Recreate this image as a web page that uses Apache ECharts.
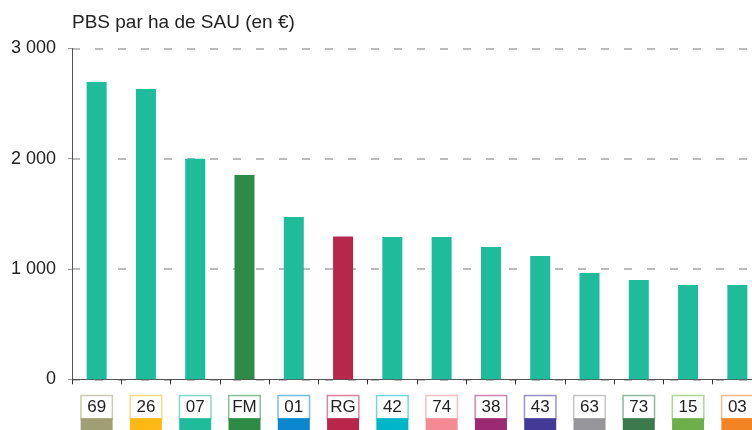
<!DOCTYPE html>
<html>
<head>
<meta charset="utf-8">
<script src="https://cdn.jsdelivr.net/npm/echarts@6/dist/echarts.min.js"></script>
<style>
  html, body { margin: 0; padding: 0; background: #fff; }
  #chart { width: 752px; height: 430px; }
</style>
</head>
<body>
<div id="chart"></div>
<script>
// territoires (départements, FM = France métropolitaine, RG = région)
var categories = ['69', '26', '07', 'FM', '01', 'RG', '42', '74', '38', '43', '63', '73', '15', '03']
// PBS par ha de SAU (en €)
var values = [2695, 2632, 2000, 1852, 1472, 1295, 1290, 1290, 1200, 1118, 964, 900, 855, 855]
// couleur de chaque étiquette
var labelColors = ['#a09f74', '#fdb913', '#1fbc9c', '#2e8b45', '#0a86cf', '#b8264b', '#00b5c7',
  '#f48b94', '#9b2a73', '#433a97', '#95959a', '#3c7a4e', '#6db04b', '#f28424']
var yTicks = [0, 1000, 2000, 3000]

var barColor = function (cat) {
  if (cat === 'FM') return '#2e8b45'
  if (cat === 'RG') return '#b8264b'
  return '#1fbc9c'
}

var rich = {}
labelColors.forEach(function (c, i) {
  rich['a' + i] = {
    width: 30,
    height: 22,
    lineHeight: 22,
    align: 'center',
    fontSize: 17,
    color: '#222',
    fontFamily: 'Liberation Sans, Arial, sans-serif',
    backgroundColor: '#fff',
    borderColor: echarts.color.modifyAlpha(c, 0.55),
    borderWidth: 1.5
  }
  rich['b' + i] = {
    width: 32,
    height: 12,
    backgroundColor: c
  }
})

var chart = echarts.init(document.getElementById('chart'))
chart.setOption({
  animation: false,
  title: {
    text: 'PBS par ha de SAU (en €)',
    left: 67,
    top: 8,
    textStyle: { fontSize: 19, fontWeight: 'normal', color: '#222', fontFamily: 'Liberation Sans, Arial, sans-serif' }
  },
  // la dernière catégorie déborde à droite dans l'original
  grid: { left: 72, top: 48.4, bottom: 50.7, width: 690, outerBoundsMode: 'none' },
  xAxis: {
    type: 'category',
    data: categories,
    axisLine: { lineStyle: { color: '#555', width: 1 } },
    axisTick: { show: true, length: 5, lineStyle: { color: '#333' } },
    axisLabel: {
      interval: 0,
      margin: 17,
      formatter: function (v, i) {
        return '{a' + i + '|' + v + '}\n{b' + i + '|}'
      },
      rich: rich
    }
  },
  yAxis: {
    type: 'value',
    min: yTicks[0],
    max: yTicks[yTicks.length - 1],
    interval: 1000,
    axisLine: { show: true, lineStyle: { color: '#555', width: 1 } },
    axisTick: { show: true, length: 4, lineStyle: { color: '#999' } },
    axisLabel: {
      margin: 16,
      fontSize: 18,
      color: '#222',
      fontFamily: 'Liberation Sans, Arial, sans-serif',
      formatter: function (v) {
        return String(v).replace(/\B(?=(\d{3})+(?!\d))/g, ' ')
      }
    },
    splitLine: { show: true, lineStyle: { color: '#a6a6a6', width: 1.5, type: [8, 15] } }
  },
  series: [{
    type: 'bar',
    barWidth: 20,
    data: values.map(function (v, i) {
      return { value: v, itemStyle: { color: barColor(categories[i]) } }
    })
  }]
})
</script>
</body>
</html>
